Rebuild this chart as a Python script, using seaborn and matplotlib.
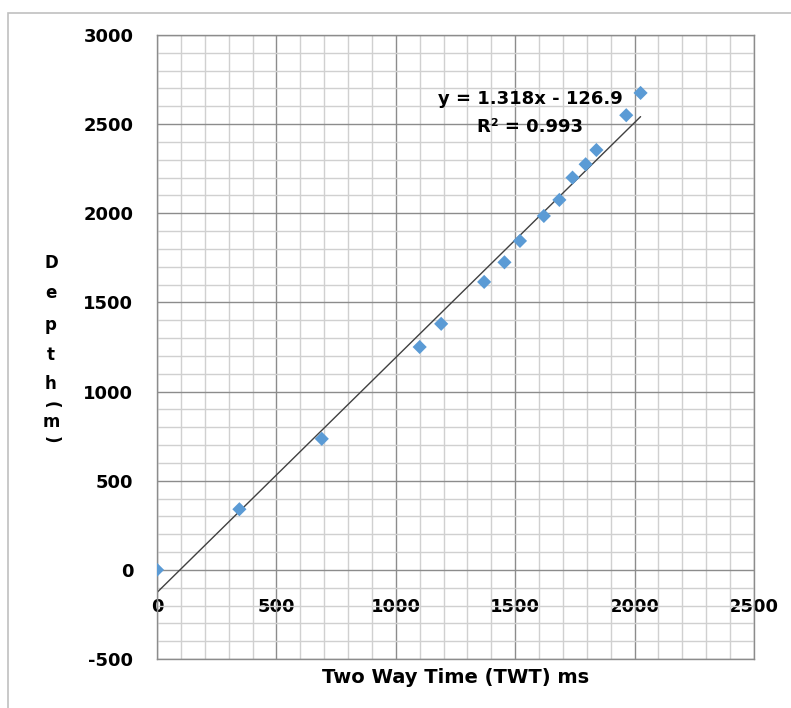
import matplotlib
matplotlib.use("Agg")
import matplotlib.pyplot as plt
from matplotlib.patches import Rectangle
from matplotlib.ticker import MultipleLocator
import numpy as np
import pandas as pd
import seaborn as sns

# values
twt_ms = [0, 345, 690, 1100, 1190, 1370, 1455, 1520, 1620, 1685, 1740, 1795, 1840, 1965, 2025]
depth_m = [0, 340, 735, 1250, 1380, 1615, 1725, 1845, 1985, 2075, 2200, 2275, 2355, 2550, 2675]
slope = 1.318
intercept = -126.9
r_squared = 0.993
x_ticks = [0, 500, 1000, 1500, 2000, 2500]
y_ticks = [-500, 0, 500, 1000, 1500, 2000, 2500, 3000]

sns.set_style("white")
plt.rcParams['font.family'] = ['DejaVu Sans']
plt.rcParams['font.weight'] = 'bold'
plt.rcParams['axes.labelweight'] = 'bold'
plt.rcParams['text.color'] = 'black'
plt.rcParams['axes.labelcolor'] = 'black'
plt.rcParams['axes.unicode_minus'] = False

MAJOR = '#8c8c8c'
MINOR = '#d0d0d0'


def main():
    W, H = 791, 708
    fig = plt.figure(figsize=(W / 100, H / 100), dpi=100)
    ax = fig.add_axes([157 / W, 1 - 659 / H, (754 - 157) / W, (659 - 35) / H])

    df = pd.DataFrame({'twt': twt_ms, 'depth': depth_m})
    fit = pd.DataFrame({'twt': [df.twt.min(), df.twt.max()]})
    fit['depth'] = slope * fit.twt + intercept

    sns.lineplot(data=fit, x='twt', y='depth', color='#404040', linewidth=1.0, ax=ax, zorder=2)
    sns.scatterplot(data=df, x='twt', y='depth', marker='D', s=52, color='#5B9BD5',
                    edgecolor='none', linewidth=0, ax=ax, zorder=3)

    ax.set_xlim(x_ticks[0], x_ticks[-1])
    ax.set_ylim(y_ticks[0], y_ticks[-1])
    ax.xaxis.set_major_locator(MultipleLocator(500))
    ax.xaxis.set_minor_locator(MultipleLocator(100))
    ax.set_yticks(y_ticks)
    ax.yaxis.set_minor_locator(MultipleLocator(100))
    ax.set_axisbelow(True)
    ax.grid(which='minor', color=MINOR, linewidth=1.0)
    ax.grid(which='major', color=MAJOR, linewidth=1.0)
    for sp in ax.spines.values():
        sp.set_color(MAJOR)
        sp.set_linewidth(1.0)

    ax.tick_params(axis='y', which='major', length=7, color=MAJOR, pad=10, labelsize=13,
                   labelcolor='black')
    ax.tick_params(axis='both', which='minor', length=0)
    ax.tick_params(axis='x', which='major', length=0, labelbottom=False)

    # x labels sit next to the y=0 line
    loc = (0 - y_ticks[0]) / (y_ticks[-1] - y_ticks[0])
    sec = ax.secondary_xaxis(loc)
    sec.set_xticks(x_ticks)
    sec.tick_params(axis='x', length=0, pad=20, labelsize=13, labelcolor='black')
    sec.spines['bottom'].set_visible(False)

    ax.set_xlabel("Two Way Time (TWT) ms", fontsize=14, fontweight='bold', labelpad=3)
    ax.set_ylabel("")

    # stacked y label, brackets turned sideways as in the original
    letters = [("D", 263, 0), ("e", 293, 0), ("p", 325, 0), ("t", 355, 0),
               ("h", 384, 0), ("(", 405, -90), ("m", 422, 0), (")", 440, -90)]
    for ch, ypx, rot in letters:
        fig.text(51 / W, 1 - ypx / H, ch, ha='center', va='center', fontsize=12,
                 fontweight='bold', rotation=rot)

    ax.text(1562, 2640, f"y = {slope}x - {abs(intercept)}", ha='center', va='center', fontsize=13)
    ax.text(1562, 2483, f"R² = {r_squared}", ha='center', va='center', fontsize=13)

    fig.add_artist(Rectangle((8 / W, -0.1), 1.2, 1 - 13 / H + 0.1, transform=fig.transFigure,
                             fill=False, edgecolor='#c0c0c0', linewidth=1.2))

    fig.savefig("out.png", dpi=100)


if '__main__' == __name__:
    main()
